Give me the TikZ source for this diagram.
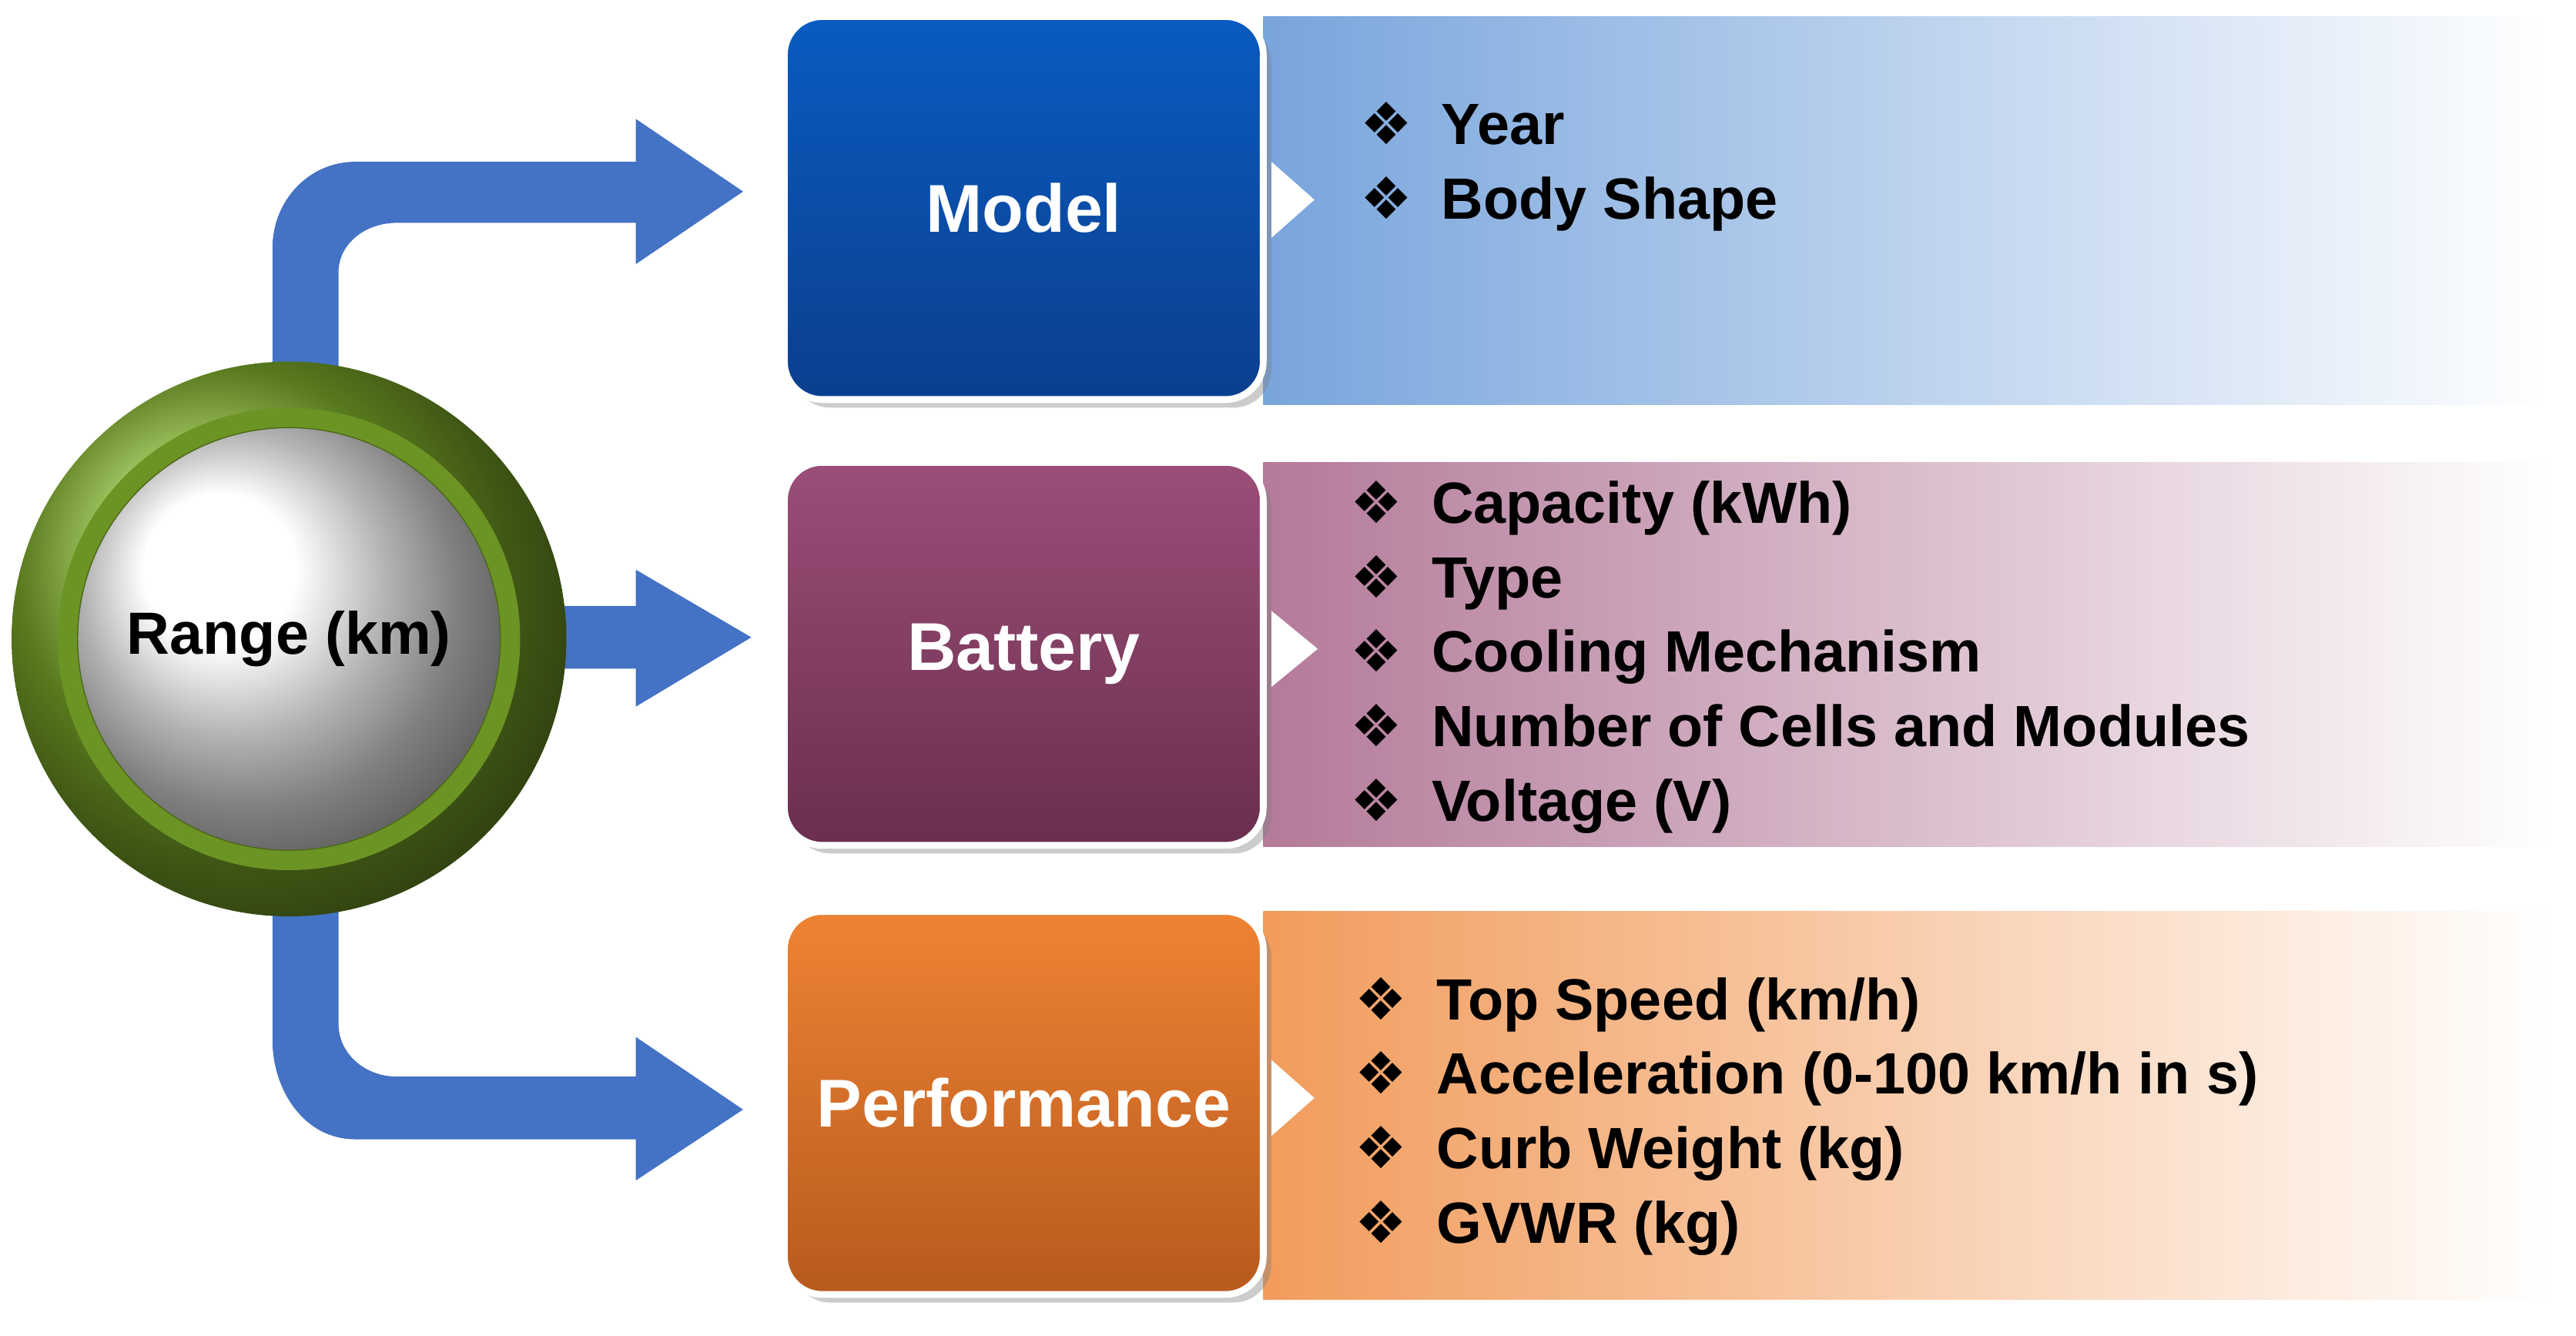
\documentclass[tikz,border=0pt]{standalone}
\usepackage{fontspec}
\setmainfont{Liberation Sans}
\newfontfamily\djv{DejaVu Sans}
\usetikzlibrary{shadows}
\definecolor{arrowblue}{HTML}{4472C4}
\definecolor{mblue}{HTML}{0A5BC0}
\definecolor{mbluedk}{HTML}{0B3F8F}
\definecolor{bpurp}{HTML}{9B4E78}
\definecolor{bpurpdk}{HTML}{6A2E4E}
\definecolor{porange}{HTML}{EE8333}
\definecolor{porangedk}{HTML}{B85A1E}
\definecolor{ringgreen}{HTML}{7FAE2A}
\newcommand{\bul}{{\djv\char"2756}\hspace{0.5em}}
\tikzset{
  arr/.style={fill=arrowblue, draw=none},
  box/.style={rounded corners=14pt, draw=white, line width=2.5pt, drop shadow={opacity=0.4, shadow xshift=3pt, shadow yshift=-3pt}},
  boxlabel/.style={text=white, font=\bfseries\fontsize{25}{30}\selectfont},
  items/.style={anchor=west, align=left, font=\bfseries\fontsize{21.5}{27.5}\selectfont},
  tri/.style={fill=white, draw=none}
}
\begin{document}
\begin{tikzpicture}[x={(0.02144cm,0)}, y={(0,-0.02144cm)}]
\useasboundingbox (0,0) rectangle (1560,809);
% bands
\shade[left color=mblue!55, right color=white] (765,10) rectangle (1545,245);
\shade[left color=bpurp!75, right color=white] (765,280) rectangle (1545,513);
\shade[left color=porange!80, right color=white] (765,552) rectangle (1545,787);
% boxes
\node[box, top color=mblue, bottom color=mbluedk, minimum width=290*0.02144cm, minimum height=232*0.02144cm, boxlabel] (model) at (620,126) {Model};
\node[box, top color=bpurp, bottom color=bpurpdk, minimum width=290*0.02144cm, minimum height=232*0.02144cm, boxlabel] (battery) at (620,396) {Battery};
\node[box, top color=porange, bottom color=porangedk, minimum width=290*0.02144cm, minimum height=232*0.02144cm, boxlabel] (perf) at (620,668) {Performance};
% small triangles
\fill[tri] (770,98) -- (796,121) -- (770,144) -- cycle;
\fill[tri] (770,370) -- (798,393) -- (770,416) -- cycle;
\fill[tri] (770,642) -- (796,665) -- (770,688) -- cycle;
% items
\node[items] (mi) at (818,101) {\bul Year\\\bul Body Shape};
\node[items] (bi) at (812,398) {\bul Capacity (kWh)\\\bul Type\\\bul Cooling Mechanism\\\bul Number of Cells and Modules\\\bul Voltage (V)};
\node[items] (pi) at (815,676) {\bul Top Speed (km/h)\\\bul Acceleration (0-100 km/h in s)\\\bul Curb Weight (kg)\\\bul GVWR (kg)};
% arrows
\fill[arr] (165,230) -- (165,150) to[out=90,in=180] (215,98) -- (385,98) -- (385,72) -- (450,116) -- (385,160) -- (385,135) -- (240,135) to[out=180,in=90] (205,165) -- (205,230) -- cycle;
\fill[arr] (330,367) -- (385,367) -- (385,345) -- (455,386) -- (385,428) -- (385,405) -- (330,405) -- cycle;
\fill[arr] (165,545) -- (165,630) to[out=-90,in=180] (215,690) -- (385,690) -- (385,715) -- (450,672) -- (385,628) -- (385,652) -- (240,652) to[out=180,in=-90] (205,620) -- (205,545) -- cycle;
% circle
\shade[ball color=ringgreen] (175,387) circle (168*0.02144cm);
\fill[ringgreen!85!black] (175,387) circle (140*0.02144cm);
\shade[ball color=white, draw=ringgreen!60!black] (175,387) circle (128*0.02144cm);
\node[font=\bfseries\fontsize{22}{26}\selectfont] (range) at (175,387) {Range (km)};
\end{tikzpicture}
\end{document}
